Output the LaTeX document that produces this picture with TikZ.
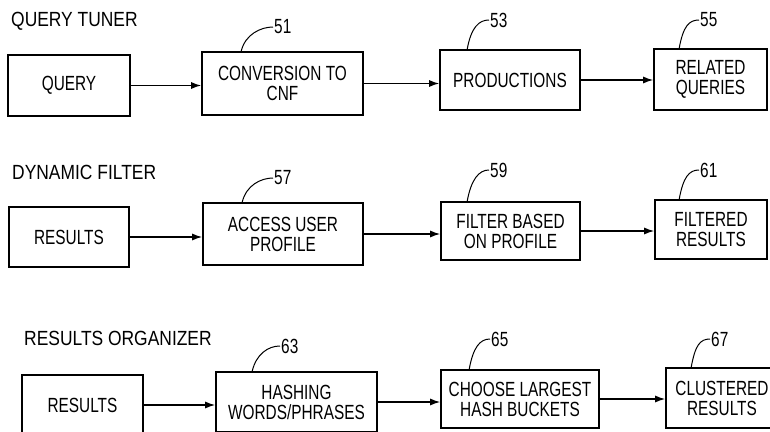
\documentclass[tikz,border=0pt]{standalone}
\usepackage{fontspec}
\setmainfont{Liberation Sans}[FakeStretch=0.75]
\newfontfamily\ttlfont{Liberation Sans}[FakeStretch=0.85]
\usetikzlibrary{arrows.meta}
\begin{document}
\begin{tikzpicture}[x=1pt,y=-1pt,
    blk/.style={draw,line width=1.6pt,align=center,inner sep=0pt,
      font=\fontsize{20.5}{20}\selectfont},
    ttl/.style={anchor=west,inner sep=0pt,font=\ttlfont\fontsize{20.5}{24}\selectfont},
    num/.style={anchor=west,inner sep=1pt,font=\fontsize{20.5}{21}\selectfont},
    lead/.style={line width=1pt},
    flow/.style={line width=1.3pt,-{Latex[length=10pt,width=7pt]}}]
  \useasboundingbox (0,0) rectangle (770,431);
  % query tuner
  \node[ttl] (t1) at (11,21) {QUERY TUNER};
  \node[blk,minimum width=122pt,minimum height=61pt] (query) at (69,85.5) {QUERY};
  \node[blk,minimum width=161pt,minimum height=63pt] (conv) at (282.5,83.5) {CONVERSION TO\\CNF};
  \node[blk,minimum width=140pt,minimum height=60pt] (prod) at (510,80) {PRODUCTIONS};
  \node[blk,minimum width=113pt,minimum height=61pt] (rel) at (710.5,79.5) {RELATED\\QUERIES};
  \node[num] (n51) at (273,27) {51};
  \node[num] (n53) at (489,20) {53};
  \node[num] (n55) at (699,20) {55};
  % dynamic filter
  \node[ttl] (t2) at (12,172) {DYNAMIC FILTER};
  \node[blk,minimum width=120pt,minimum height=60pt] (res1) at (69,237) {RESULTS};
  \node[blk,minimum width=160pt,minimum height=62pt] (acc) at (283,234) {ACCESS USER\\PROFILE};
  \node[blk,minimum width=139pt,minimum height=58pt] (filt) at (510.5,231) {FILTER BASED\\ON PROFILE};
  \node[blk,minimum width=112pt,minimum height=59pt] (fres) at (711,229.5) {FILTERED\\RESULTS};
  \node[num] (n57) at (273,178) {57};
  \node[num] (n59) at (489,170) {59};
  \node[num] (n61) at (699,170) {61};
  % results organizer
  \node[ttl] (t3) at (24,338) {RESULTS ORGANIZER};
  \node[blk,minimum width=121pt,minimum height=60pt] (res2) at (82.5,405) {RESULTS};
  \node[blk,minimum width=161pt,minimum height=60pt] (hash) at (296.5,402) {HASHING\\WORDS/PHRASES};
  \node[blk,minimum width=158pt,minimum height=58pt] (choose) at (520,399) {CHOOSE LARGEST\\HASH BUCKETS};
  \node[blk,minimum width=112pt,minimum height=60pt] (clus) at (722,398) {CLUSTERED\\RESULTS};
  \node[num] (n63) at (280,346) {63};
  \node[num] (n65) at (490,339) {65};
  \node[num] (n67) at (710,339) {67};
  \begin{scope}[flow]
    \draw (query.east) -- (query.east -| conv.west);
    \draw (conv.east) -- (conv.east -| prod.west);
    \draw (prod.east) -- (prod.east -| rel.west);
    \draw (res1.east) -- (res1.east -| acc.west);
    \draw (acc.east) -- (acc.east -| filt.west);
    \draw (filt.east) -- (filt.east -| fres.west);
    \draw (res2.east) -- (res2.east -| hash.west);
    \draw (hash.east) -- (hash.east -| choose.west);
    \draw (choose.east) -- (choose.east -| clus.west);
  \end{scope}
  \begin{scope}[lead]
    \draw ([xshift=40pt]conv.north west) .. controls +(4,-17) and +(-12,0) .. (n51.west);
    \draw ([xshift=28pt]prod.north west) .. controls +(4,-22) and +(-10,0) .. (n53.west);
    \draw ([xshift=26pt]rel.north west) .. controls +(4,-22) and +(-10,0) .. (n55.west);
    \draw ([xshift=40pt]acc.north west) .. controls +(4,-17) and +(-12,0) .. (n57.west);
    \draw ([xshift=27pt]filt.north west) .. controls +(4,-22) and +(-10,0) .. (n59.west);
    \draw ([xshift=25pt]fres.north west) .. controls +(4,-22) and +(-10,0) .. (n61.west);
    \draw ([xshift=37pt]hash.north west) .. controls +(4,-17) and +(-12,0) .. (n63.west);
    \draw ([xshift=29pt]choose.north west) .. controls +(4,-22) and +(-10,0) .. (n65.west);
    \draw ([xshift=26pt]clus.north west) .. controls +(4,-22) and +(-10,0) .. (n67.west);
  \end{scope}
\end{tikzpicture}
\end{document}
